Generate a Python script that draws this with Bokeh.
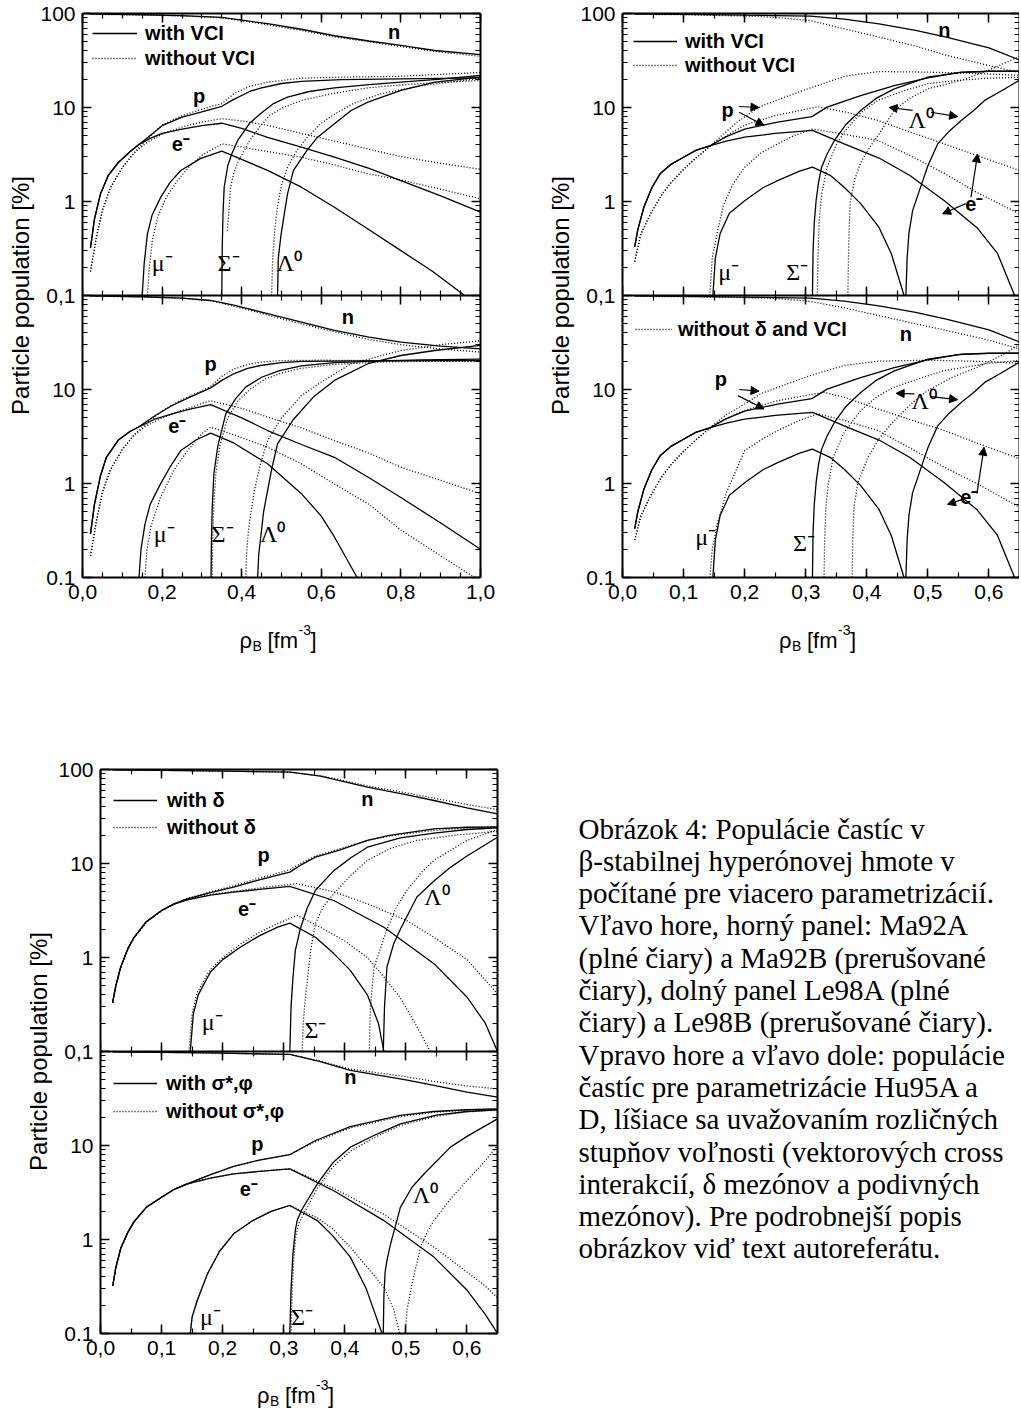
from bokeh.plotting import figure
from bokeh.models import (Range1d, LogScale, LinearAxis, LogAxis, FixedTicker,
                          SingleIntervalTicker, CustomJSTickFormatter, Legend,
                          LegendItem, Arrow, NormalHead, ColumnDataSource)
from bokeh.layouts import row, column
from bokeh.core.properties import value
from bokeh.embed import file_html
from bokeh.resources import INLINE

SANS = "Liberation Sans"
SERIF = "Liberation Serif"

# ======================= DATA =======================
# ---- Panel A: top-left, upper (with VCI solid / without VCI dotted)
A_n_x = [0.02, 0.15, 0.25, 0.35, 0.40, 0.465, 0.55, 0.633, 0.72, 0.80, 0.885, 1.0]
A_n_sol = [99, 97, 95, 91, 85, 78, 68, 58, 51, 45.7, 40.4, 36.6]
A_n_dot = [98, 96.5, 94, 90, 84, 76, 66, 56.5, 50, 44.5, 39.5, 35]
A_p_sol_x = [0.02, 0.03, 0.045, 0.065, 0.09, 0.12, 0.15, 0.2, 0.25, 0.3, 0.35, 0.38, 0.42, 0.45, 0.5, 0.55, 0.65, 0.8, 1.0]
A_p_sol = [0.32, 0.65, 1.2, 1.9, 2.6, 3.4, 4.3, 6.4, 7.9, 9.0, 10.3, 12.2, 14.8, 16.2, 18.0, 19.0, 19.8, 20.2, 20.7]
A_p_dot_x = [0.02, 0.035, 0.05, 0.07, 0.1, 0.13, 0.16, 0.2, 0.25, 0.3, 0.35, 0.38, 0.42, 0.465, 0.55, 0.65, 0.8, 1.0]
A_p_dot = [0.18, 0.42, 0.8, 1.4, 2.3, 3.3, 4.5, 6.5, 8.2, 9.6, 11.0, 14.0, 16.8, 18.6, 20.5, 21.0, 21.5, 23.6]
A_e_sol_x = [0.02, 0.03, 0.045, 0.065, 0.09, 0.12, 0.14, 0.17, 0.2, 0.25, 0.3, 0.35, 0.4, 0.465, 0.55, 0.633, 0.72, 0.8, 0.9, 1.0]
A_e_sol = [0.32, 0.65, 1.2, 1.9, 2.6, 3.4, 4.0, 4.7, 5.3, 5.9, 6.4, 6.8, 6.0, 4.8, 3.78, 2.96, 2.25, 1.67, 1.15, 0.77]
A_e_dot_x = [0.02, 0.035, 0.05, 0.07, 0.1, 0.13, 0.16, 0.2, 0.25, 0.3, 0.35, 0.4, 0.465, 0.55, 0.633, 0.72, 0.8, 0.9, 1.0]
A_e_dot = [0.18, 0.42, 0.8, 1.4, 2.3, 3.3, 4.2, 5.2, 6.2, 7.0, 7.6, 7.2, 6.45, 5.3, 4.4, 3.6, 3.0, 2.55, 2.2]
A_mu_sol_x = [0.15, 0.155, 0.163, 0.175, 0.196, 0.22, 0.247, 0.296, 0.35, 0.4, 0.465, 0.55, 0.633, 0.72, 0.8, 0.88, 0.96]
A_mu_sol = [0.1, 0.22, 0.45, 0.72, 1.1, 1.6, 2.14, 2.86, 3.43, 2.8, 2.14, 1.42, 0.87, 0.5, 0.3, 0.18, 0.1]
A_mu_dot_x = [0.163, 0.168, 0.176, 0.19, 0.21, 0.24, 0.27, 0.3, 0.35, 0.4, 0.465, 0.55, 0.633, 0.717, 0.8, 0.9, 1.0]
A_mu_dot = [0.1, 0.2, 0.4, 0.7, 1.1, 1.7, 2.4, 3.1, 4.1, 3.8, 3.4, 2.96, 2.45, 1.97, 1.7, 1.35, 1.07]
A_sig_sol_x = [0.35, 0.351, 0.353, 0.356, 0.365, 0.375, 0.39, 0.42, 0.447, 0.48, 0.515, 0.57, 0.633, 0.72, 0.8, 0.9, 1.0]
A_sig_sol = [0.1, 0.3, 0.75, 1.42, 2.4, 3.2, 4.46, 6.8, 8.57, 11.0, 12.9, 14.8, 16.2, 17.5, 18.6, 20.0, 21.9]
A_sig_dot_x = [0.364, 0.368, 0.372, 0.38, 0.39, 0.405, 0.42, 0.445, 0.47, 0.5, 0.55, 0.633, 0.717, 0.8, 0.9, 1.0]
A_sig_dot = [0.49, 0.8, 1.42, 2.0, 2.6, 3.4, 4.46, 6.2, 8.2, 9.8, 11.9, 14.2, 16.2, 17.4, 18.5, 19.4]
A_lam_sol_x = [0.49, 0.492, 0.499, 0.515, 0.53, 0.564, 0.59, 0.633, 0.675, 0.717, 0.8, 0.885, 1.0]
A_lam_sol = [0.1, 0.25, 0.45, 1.2, 2.14, 3.5, 4.8, 6.7, 9.3, 11.4, 15.2, 18.6, 21.0]
A_lam_dot_x = [0.475, 0.478, 0.483, 0.49, 0.5, 0.515, 0.535, 0.564, 0.6, 0.633, 0.68, 0.75, 0.85, 1.0]
A_lam_dot = [0.1, 0.25, 0.5, 0.9, 1.5, 2.3, 3.3, 4.8, 6.8, 8.5, 11.0, 14.0, 17.0, 20.5]
A_lab_x = [0.783, 0.293, 0.247]
A_lab_y = [63, 13.4, 4.1]
A_grk_x = [0.2, 0.367, 0.52]
A_grk_y = [0.22, 0.22, 0.22]

# ---- Panel B: top-left, lower
B_n_x = [0.02, 0.15, 0.25, 0.322, 0.38, 0.465, 0.55, 0.633, 0.72, 0.8, 0.9, 1.0]
B_n_sol = [99, 97, 94, 88.5, 79, 64, 52, 42.5, 36, 31.9, 29, 27.1]
B_n_dot = [98.5, 96.5, 93.5, 88, 77, 62, 50, 41, 34, 30, 27, 25]
B_p_sol_x = [0.02, 0.03, 0.045, 0.06, 0.09, 0.12, 0.14, 0.18, 0.225, 0.27, 0.322, 0.35, 0.38, 0.415, 0.447, 0.5, 0.55, 0.7, 1.0]
B_p_sol = [0.29, 0.6, 1.2, 1.9, 2.9, 3.6, 3.97, 5.2, 6.76, 8.3, 10.4, 12.5, 14.7, 16.8, 18.0, 19.3, 19.9, 20.2, 20.3]
B_p_dot_x = [0.02, 0.035, 0.05, 0.07, 0.1, 0.13, 0.16, 0.2, 0.25, 0.3, 0.322, 0.35, 0.38, 0.42, 0.46, 0.5, 0.6, 0.8, 1.0]
B_p_dot = [0.17, 0.4, 0.8, 1.4, 2.3, 3.3, 4.3, 5.9, 7.8, 9.7, 10.8, 13.8, 16.5, 18.7, 19.8, 20.3, 20.5, 20.2, 19.8]
B_e_sol_x = [0.02, 0.03, 0.045, 0.06, 0.09, 0.12, 0.14, 0.18, 0.225, 0.27, 0.322, 0.4, 0.465, 0.55, 0.633, 0.72, 0.8, 0.9, 1.0]
B_e_sol = [0.29, 0.6, 1.2, 1.9, 2.9, 3.6, 3.97, 4.8, 5.5, 6.2, 6.9, 5.0, 3.66, 2.6, 1.9, 1.15, 0.71, 0.38, 0.2]
B_e_dot_x = [0.02, 0.035, 0.05, 0.07, 0.1, 0.13, 0.16, 0.2, 0.25, 0.3, 0.322, 0.4, 0.465, 0.55, 0.633, 0.72, 0.8, 0.9, 1.0]
B_e_dot = [0.17, 0.4, 0.8, 1.4, 2.3, 3.3, 4.1, 5.0, 6.0, 7.1, 7.6, 6.3, 5.1, 3.9, 2.86, 2.1, 1.49, 1.08, 0.78]
B_mu_sol_x = [0.142, 0.147, 0.157, 0.17, 0.196, 0.22, 0.247, 0.285, 0.322, 0.38, 0.465, 0.55, 0.6, 0.633, 0.69]
B_mu_sol = [0.1, 0.2, 0.37, 0.6, 0.99, 1.5, 2.24, 2.9, 3.43, 2.7, 1.62, 0.78, 0.45, 0.27, 0.1]
B_mu_dot_x = [0.157, 0.162, 0.172, 0.196, 0.23, 0.264, 0.3, 0.322, 0.38, 0.465, 0.55, 0.633, 0.72, 0.8, 0.9, 0.985]
B_mu_dot = [0.1, 0.2, 0.35, 0.71, 1.4, 2.24, 3.4, 3.97, 3.3, 2.43, 1.62, 0.99, 0.6, 0.32, 0.17, 0.1]
B_sig_sol_x = [0.323, 0.324, 0.326, 0.33, 0.34, 0.36, 0.385, 0.41, 0.45, 0.495, 0.55, 0.633, 0.75, 0.85, 1.0]
B_sig_sol = [0.1, 0.25, 0.56, 1.27, 2.5, 5.5, 8.0, 10.6, 13.5, 15.9, 17.8, 19.3, 20.2, 20.7, 21.0]
B_sig_dot_x = [0.326, 0.327, 0.33, 0.335, 0.345, 0.365, 0.39, 0.42, 0.46, 0.5, 0.55, 0.633, 0.75, 0.85, 1.0]
B_sig_dot = [0.1, 0.25, 0.6, 1.3, 2.5, 5.0, 7.5, 10.0, 13.0, 15.0, 16.8, 18.5, 19.6, 20.0, 20.3]
B_lam_sol_x = [0.44, 0.443, 0.447, 0.455, 0.465, 0.475, 0.49, 0.53, 0.58, 0.633, 0.717, 0.8, 0.885, 1.0]
B_lam_sol = [0.1, 0.18, 0.25, 0.5, 0.84, 1.4, 2.64, 4.8, 8.3, 12.5, 18.8, 23.0, 26.0, 29.4]
B_lam_dot_x = [0.41, 0.413, 0.418, 0.425, 0.432, 0.445, 0.465, 0.5, 0.55, 0.6, 0.675, 0.8, 0.9, 1.0]
B_lam_dot = [0.1, 0.2, 0.35, 0.55, 0.84, 1.5, 2.86, 5.0, 8.6, 12.0, 18.8, 26.0, 30.0, 33.0]
B_lab_x = [0.667, 0.322, 0.238]
B_lab_y = [58.8, 18.8, 4.14]
B_grk_x = [0.205, 0.352, 0.478]
B_grk_y = [0.29, 0.29, 0.29]

# ---- Panel C: top-right, upper (with VCI / without VCI)
C_n_x = [0.02, 0.1, 0.2, 0.25, 0.308, 0.363, 0.42, 0.48, 0.53, 0.6, 0.65]
C_n_sol = [99, 98, 96, 95, 94, 87, 77.7, 66, 56, 43, 32]
C_n_dot = [98, 97, 94, 91, 84, 68.7, 56, 45, 36, 28, 23.5]
C_p_sol_x = [0.02, 0.025, 0.035, 0.048, 0.062, 0.08, 0.1, 0.12, 0.144, 0.17, 0.2, 0.254, 0.31, 0.335, 0.36, 0.39, 0.445, 0.5, 0.555, 0.6, 0.65]
C_p_sol = [0.33, 0.5, 0.87, 1.4, 1.99, 2.5, 2.96, 3.5, 3.94, 4.9, 5.9, 7.0, 8.0, 10.1, 11.5, 13.4, 17.1, 20.7, 23.8, 24.3, 24.3]
C_p_dot_x = [0.02, 0.03, 0.046, 0.065, 0.08, 0.1, 0.12, 0.144, 0.165, 0.19, 0.226, 0.27, 0.308, 0.363, 0.418, 0.5, 0.58, 0.65]
C_p_dot = [0.23, 0.45, 0.74, 1.2, 1.6, 2.2, 2.9, 3.9, 5.2, 7.2, 10.25, 13.2, 16.2, 21.4, 24.1, 23.8, 23.0, 22.0]
C_e_sol_x = [0.02, 0.025, 0.035, 0.048, 0.062, 0.08, 0.1, 0.12, 0.144, 0.17, 0.2, 0.25, 0.311, 0.363, 0.42, 0.47, 0.527, 0.58, 0.614, 0.642]
C_e_sol = [0.33, 0.5, 0.87, 1.4, 1.99, 2.5, 2.96, 3.5, 3.94, 4.4, 4.83, 5.3, 5.7, 4.1, 2.9, 1.9, 1.02, 0.53, 0.28, 0.1]
C_e_dot_x = [0.02, 0.03, 0.046, 0.065, 0.08, 0.1, 0.12, 0.144, 0.17, 0.2, 0.25, 0.32, 0.363, 0.418, 0.47, 0.527, 0.58, 0.65]
C_e_dot = [0.23, 0.45, 0.74, 1.2, 1.6, 2.2, 2.9, 3.9, 5.0, 6.5, 8.2, 10.2, 9.0, 7.3, 5.5, 4.1, 3.1, 2.14]
C_mu_sol_x = [0.148, 0.152, 0.16, 0.175, 0.2, 0.23, 0.254, 0.29, 0.311, 0.34, 0.363, 0.39, 0.42, 0.44, 0.461]
C_mu_sol = [0.1, 0.25, 0.46, 0.75, 1.02, 1.4, 1.67, 2.1, 2.32, 1.9, 1.42, 0.95, 0.53, 0.28, 0.1]
C_mu_dot_x = [0.143, 0.147, 0.155, 0.165, 0.18, 0.2, 0.227, 0.254, 0.28, 0.311, 0.363, 0.418, 0.47, 0.527, 0.58, 0.65]
C_mu_dot = [0.1, 0.25, 0.46, 0.9, 1.5, 2.32, 3.3, 4.1, 5.0, 5.9, 5.2, 4.46, 3.1, 1.99, 1.25, 0.74]
C_sig_sol_x = [0.311, 0.312, 0.314, 0.317, 0.321, 0.326, 0.335, 0.347, 0.365, 0.39, 0.415, 0.445, 0.5, 0.55, 0.6, 0.65]
C_sig_sol = [0.1, 0.3, 0.6, 1.02, 1.6, 2.32, 3.2, 4.46, 6.5, 9.3, 12.5, 15.8, 21.0, 23.5, 24.2, 24.3]
C_sig_dot_x = [0.319, 0.32, 0.322, 0.326, 0.335, 0.35, 0.363, 0.39, 0.418, 0.46, 0.5, 0.55, 0.6, 0.65]
C_sig_dot = [0.1, 0.25, 0.6, 1.2, 2.32, 4.0, 5.5, 8.8, 11.9, 15.0, 17.9, 19.5, 20.5, 21.0]
C_lam_sol_x = [0.464, 0.466, 0.469, 0.475, 0.49, 0.5, 0.516, 0.535, 0.555, 0.575, 0.593, 0.62, 0.65]
C_lam_sol = [0.1, 0.25, 0.46, 0.8, 1.55, 2.4, 4.1, 5.6, 7.3, 9.3, 11.9, 15.0, 19.5]
C_lam_dot_x = [0.369, 0.37, 0.371, 0.373, 0.38, 0.39, 0.405, 0.418, 0.445, 0.47, 0.5, 0.555, 0.6, 0.65]
C_lam_dot = [0.1, 0.25, 0.5, 1.0, 1.7, 2.6, 3.8, 5.0, 9.3, 12.5, 15.8, 19.5, 25.0, 35.0]
C_lab_x = [0.527, 0.172, 0.576]
C_lab_y = [66, 9.3, 0.95]
C_grk_x = [0.174, 0.286, 0.489]
C_grk_y = [0.18, 0.18, 7.3]
C_arr_x0 = [0.191, 0.191, 0.475, 0.505, 0.5705, 0.562]
C_arr_y0 = [10.25, 8.9, 9.3, 8.9, 1.11, 0.95]
C_arr_x1 = [0.2235, 0.2317, 0.4366, 0.5486, 0.5814, 0.524]
C_arr_y1 = [10.0, 6.45, 10.0, 8.0, 3.2, 0.74]

# ---- Panel D: top-right, lower (solid = same as C; dotted = without delta and VCI)
D_n_dot = [98, 97, 95, 93, 86.5, 74, 61, 50, 42.5, 33.5, 27]
D_p_dot_x = [0.02, 0.03, 0.046, 0.065, 0.08, 0.1, 0.12, 0.144, 0.17, 0.2, 0.226, 0.27, 0.308, 0.363, 0.418, 0.5, 0.6, 0.65]
D_p_dot = [0.25, 0.45, 0.74, 1.2, 1.6, 2.2, 2.9, 3.97, 5.4, 7.0, 9.0, 11.5, 14.1, 18.0, 20.0, 20.5, 19.8, 19.0]
D_e_dot_x = [0.02, 0.03, 0.046, 0.065, 0.08, 0.1, 0.12, 0.144, 0.17, 0.2, 0.25, 0.308, 0.33, 0.363, 0.418, 0.47, 0.527, 0.58, 0.65]
D_e_dot = [0.25, 0.45, 0.74, 1.2, 1.6, 2.2, 2.9, 3.9, 4.9, 6.0, 7.5, 8.85, 9.3, 8.3, 6.2, 4.8, 3.66, 2.7, 1.83]
D_mu_dot_x = [0.143, 0.147, 0.155, 0.17, 0.2, 0.23, 0.254, 0.29, 0.32, 0.363, 0.418, 0.47, 0.527, 0.58, 0.65]
D_mu_dot = [0.1, 0.2, 0.37, 0.8, 2.24, 3.0, 3.66, 4.7, 5.5, 4.7, 3.66, 2.4, 1.49, 1.0, 0.56]
D_sig_dot_x = [0.33, 0.331, 0.333, 0.337, 0.345, 0.363, 0.39, 0.418, 0.445, 0.5, 0.527, 0.6, 0.65]
D_sig_dot = [0.1, 0.25, 0.56, 1.0, 1.9, 3.5, 6.0, 8.5, 10.6, 14.0, 15.9, 19.0, 20.4]
D_lam_dot_x = [0.376, 0.377, 0.379, 0.385, 0.402, 0.42, 0.44, 0.47, 0.5, 0.54, 0.582, 0.62, 0.65]
D_lam_dot = [0.1, 0.25, 0.56, 1.0, 1.9, 3.0, 4.3, 6.8, 9.8, 13.5, 17.3, 23.0, 30.0]
D_lab_x = [0.464, 0.161, 0.568]
D_lab_y = [39, 13, 0.71]
D_grk_x = [0.136, 0.297, 0.494]
D_grk_y = [0.27, 0.23, 7.6]
D_arr_x0 = [0.191, 0.189, 0.478, 0.505, 0.5803, 0.5607]
D_arr_y0 = [10.0, 8.6, 9.0, 8.4, 0.78, 0.69]
D_arr_x1 = [0.2235, 0.2317, 0.448, 0.5486, 0.592, 0.532]
D_arr_y1 = [9.6, 6.2, 9.1, 7.8, 2.43, 0.6]

# ---- Panel E: bottom-left, upper (with delta / without delta)
E_n_x = [0.02, 0.1, 0.2, 0.31, 0.36, 0.437, 0.5, 0.546, 0.6, 0.65]
E_n_sol = [99, 98, 96, 94, 85, 65, 54, 46.8, 39, 33.8]
E_n_dot = [99, 98, 96, 94, 86, 67, 56.5, 49.5, 42.5, 37.5]
E_p_x = [0.02, 0.025, 0.033, 0.045, 0.055, 0.075, 0.1, 0.12, 0.142, 0.18, 0.218, 0.26, 0.3, 0.31, 0.33, 0.352, 0.39, 0.437, 0.473, 0.546, 0.6, 0.65]
E_p_sol = [0.335, 0.5, 0.79, 1.25, 1.64, 2.4, 3.16, 3.7, 4.2, 4.9, 5.6, 6.7, 7.8, 8.1, 9.8, 11.7, 13.8, 17.6, 19.9, 23.4, 24.3, 24.5]
E_p_dot = [0.33, 0.49, 0.78, 1.23, 1.62, 2.38, 3.14, 3.7, 4.25, 5.0, 5.8, 7.0, 8.2, 8.6, 10.2, 12.0, 14.2, 17.6, 19.6, 22.5, 23.8, 24.2]
E_e_sol_x = [0.02, 0.025, 0.033, 0.045, 0.055, 0.075, 0.1, 0.12, 0.142, 0.18, 0.218, 0.26, 0.31, 0.382, 0.464, 0.546, 0.6, 0.63, 0.65]
E_e_sol = [0.335, 0.5, 0.79, 1.25, 1.64, 2.4, 3.16, 3.7, 4.1, 4.6, 4.95, 5.3, 5.7, 4.04, 2.1, 0.86, 0.38, 0.2, 0.1]
E_e_dot_x = [0.02, 0.025, 0.033, 0.045, 0.055, 0.075, 0.1, 0.12, 0.142, 0.18, 0.218, 0.26, 0.322, 0.382, 0.437, 0.5, 0.546, 0.6, 0.65]
E_e_dot = [0.33, 0.49, 0.78, 1.23, 1.62, 2.38, 3.14, 3.7, 4.15, 4.7, 5.05, 5.5, 6.1, 5.0, 3.73, 2.5, 1.64, 0.95, 0.41]
E_mu_sol_x = [0.147, 0.152, 0.16, 0.18, 0.2, 0.23, 0.26, 0.29, 0.31, 0.352, 0.382, 0.409, 0.437, 0.455, 0.464]
E_mu_sol = [0.1, 0.25, 0.4, 0.7, 0.95, 1.3, 1.7, 2.1, 2.32, 1.64, 1.1, 0.73, 0.4, 0.2, 0.1]
E_mu_dot_x = [0.145, 0.15, 0.158, 0.18, 0.2, 0.23, 0.26, 0.29, 0.322, 0.36, 0.4, 0.437, 0.464, 0.49, 0.515, 0.54]
E_mu_dot = [0.1, 0.25, 0.42, 0.75, 1.0, 1.4, 1.85, 2.3, 2.8, 2.1, 1.5, 1.0, 0.62, 0.38, 0.2, 0.1]
E_sig_sol_x = [0.31, 0.312, 0.315, 0.319, 0.327, 0.338, 0.352, 0.382, 0.41, 0.437, 0.491, 0.546, 0.6, 0.65]
E_sig_sol = [0.1, 0.3, 0.6, 1.19, 2.0, 3.3, 5.2, 8.4, 11.5, 14.9, 18.7, 21.0, 23.0, 24.0]
E_sig_dot_x = [0.33, 0.332, 0.335, 0.338, 0.344, 0.352, 0.365, 0.382, 0.41, 0.437, 0.475, 0.518, 0.58, 0.65]
E_sig_dot = [0.1, 0.2, 0.35, 0.52, 1.2, 2.3, 3.5, 4.76, 7.5, 10.8, 14.5, 17.6, 20.0, 22.0]
E_lam_sol_x = [0.463, 0.465, 0.469, 0.48, 0.491, 0.518, 0.546, 0.573, 0.6, 0.65]
E_lam_sol = [0.1, 0.3, 0.79, 1.4, 2.0, 4.4, 6.5, 9.1, 12.0, 19.0]
E_lam_dot_x = [0.44, 0.442, 0.445, 0.448, 0.469, 0.485, 0.502, 0.525, 0.546, 0.6, 0.65]
E_lam_dot = [0.1, 0.3, 0.5, 0.79, 2.0, 3.5, 5.2, 8.0, 10.8, 17.6, 23.0]
E_lab_x = [0.437, 0.267, 0.24]
E_lab_y = [48.8, 12.2, 3.3]
E_grk_x = [0.183, 0.352, 0.551]
E_grk_y = [0.205, 0.17, 4.4]

# ---- Panel F: bottom-left, lower (with sigma*,phi / without)
F_n_x = [0.02, 0.1, 0.2, 0.31, 0.36, 0.409, 0.5, 0.546, 0.6, 0.65]
F_n_sol = [99, 98, 96, 93, 78, 63, 50, 43.5, 37, 32.7]
F_n_dot = [99, 98, 96, 93, 79, 65, 54, 48, 43, 40]
F_p_x = [0.02, 0.025, 0.033, 0.045, 0.055, 0.075, 0.1, 0.12, 0.142, 0.18, 0.218, 0.26, 0.31, 0.352, 0.409, 0.491, 0.546, 0.6, 0.65]
F_p_sol = [0.32, 0.5, 0.8, 1.2, 1.55, 2.2, 2.82, 3.4, 3.9, 4.9, 6.0, 7.0, 8.0, 11.3, 15.9, 20.9, 23.0, 24.0, 24.5]
F_p_dot = [0.32, 0.5, 0.8, 1.2, 1.55, 2.2, 2.82, 3.4, 3.9, 4.9, 6.0, 7.0, 8.0, 11.0, 15.4, 20.3, 22.6, 23.8, 24.5]
F_e_x = [0.02, 0.025, 0.033, 0.045, 0.055, 0.075, 0.1, 0.12, 0.142, 0.18, 0.218, 0.26, 0.31, 0.382, 0.464, 0.546, 0.6, 0.63, 0.65]
F_e_sol = [0.32, 0.5, 0.8, 1.2, 1.55, 2.2, 2.82, 3.4, 3.9, 4.5, 5.0, 5.3, 5.65, 3.3, 1.59, 0.65, 0.29, 0.16, 0.1]
F_e_dot = [0.32, 0.5, 0.8, 1.2, 1.55, 2.2, 2.82, 3.4, 3.9, 4.5, 5.0, 5.3, 5.65, 3.5, 1.85, 0.83, 0.45, 0.32, 0.24]
F_mu_sol_x = [0.147, 0.15, 0.158, 0.175, 0.195, 0.218, 0.25, 0.28, 0.31, 0.355, 0.38, 0.409, 0.435, 0.461]
F_mu_sol = [0.1, 0.15, 0.22, 0.43, 0.75, 1.15, 1.6, 2.0, 2.3, 1.59, 1.1, 0.65, 0.3, 0.1]
F_mu_dot_x = [0.147, 0.15, 0.158, 0.175, 0.195, 0.218, 0.25, 0.28, 0.31, 0.355, 0.38, 0.409, 0.464, 0.48, 0.49]
F_mu_dot = [0.1, 0.15, 0.22, 0.43, 0.75, 1.15, 1.6, 2.0, 2.3, 1.7, 1.3, 0.83, 0.31, 0.18, 0.1]
F_sig_sol_x = [0.31, 0.312, 0.315, 0.319, 0.322, 0.33, 0.355, 0.38, 0.409, 0.45, 0.491, 0.55, 0.6, 0.65]
F_sig_sol = [0.1, 0.3, 0.7, 1.25, 1.6, 2.1, 3.9, 6.5, 9.6, 13.0, 17.0, 21.0, 23.0, 24.0]
F_sig_dot_x = [0.312, 0.314, 0.317, 0.32, 0.325, 0.335, 0.355, 0.38, 0.409, 0.45, 0.491, 0.55, 0.6, 0.65]
F_sig_dot = [0.1, 0.3, 0.7, 1.1, 1.5, 2.0, 3.5, 5.9, 8.7, 12.3, 16.3, 20.5, 22.8, 23.8]
F_lam_sol_x = [0.463, 0.464, 0.466, 0.469, 0.475, 0.491, 0.51, 0.53, 0.573, 0.6, 0.65]
F_lam_sol = [0.1, 0.25, 0.45, 0.6, 0.9, 2.2, 3.6, 5.0, 9.6, 12.5, 19.2]
F_lam_dot_x = [0.499, 0.502, 0.508, 0.516, 0.524, 0.535, 0.546, 0.573, 0.6, 0.625, 0.65]
F_lam_dot = [0.1, 0.18, 0.29, 0.5, 0.83, 1.2, 1.59, 2.7, 4.25, 6.3, 10.0]
F_lab_x = [0.409, 0.257, 0.243]
F_lab_y = [53, 10.4, 3.46]
F_grk_x = [0.18, 0.33, 0.532]
F_grk_y = [0.15, 0.15, 2.94]

# ---- texts
BOLD_LABELS = ["n", "p", "e⁻"]
GREEK_LABELS = ["μ⁻", "Σ⁻", "Λ⁰"]
LEG_A = ["with VCI", "without VCI"]
LEG_C = ["with VCI", "without VCI"]
LEG_D = ["without δ and VCI"]
LEG_E = ["with δ", "without δ"]
LEG_F = ["with σ*,φ", "without σ*,φ"]
Y_AXIS_LABEL = "Particle population [%]"
Y_TICK_LABELS = ["0.1", "1", "10", "0,1", "1", "10", "100"]
XLAB_TEXT = ["ρ", "B", "[fm", "-3", "]"]
CAPTION_LINES = [
    "Obrázok 4:  Populácie častíc v",
    "β-stabilnej hyperónovej hmote v",
    "počítané pre viacero parametrizácií.",
    "Vľavo hore, horný panel: Ma92A",
    "(plné čiary) a Ma92B (prerušované",
    "čiary), dolný panel Le98A (plné",
    "čiary) a Le98B (prerušované čiary).",
    "Vpravo hore a vľavo dole: populácie",
    "častíc pre parametrizácie Hu95A a",
    "D, líšiace sa uvažovaním rozličných",
    "stupňov voľnosti (vektorových cross",
    "interakcií, δ mezónov a podivných",
    "mezónov).  Pre podrobnejší popis",
    "obrázkov viď text autoreferátu.",
]

# ======================= LAYOUT / STYLE =======================
FH = 282
XLAB_DX = [-42, -29, -14, 17, 29]
XLAB_DY = [0, 5, 0, -11, 0]
XLAB_FS = ["22px", "14px", "22px", "14px", "22px"]

Y_MAJOR = [10.0 ** k for k in range(-4, 3)]
Y_MINOR = [m * 10.0 ** k for k in range(-4, 2) for m in range(2, 10)]


def style_axis(ax, show_labels=False):
    ax.axis_line_width = 2
    ax.axis_line_color = "black"
    ax.major_tick_line_width = 1.5
    ax.minor_tick_line_width = 1.2
    ax.major_tick_line_color = "black"
    ax.minor_tick_line_color = "black"
    ax.major_tick_in = 9
    ax.major_tick_out = 0
    ax.minor_tick_in = 5
    ax.minor_tick_out = 0
    if show_labels:
        ax.major_label_text_font = SANS
        ax.major_label_text_font_size = "21px"
        ax.major_label_text_color = "black"
        ax.major_label_standoff = 7
    else:
        ax.major_label_text_font_size = "0px"
        ax.major_label_standoff = 0
        ax.formatter = CustomJSTickFormatter(code="return '';")


def draw_panel(p, curves, lab_x, lab_y, grk_x, grk_y, rng):
    rends = []
    for xs, ys, dotted in curves:
        r = p.line(xs, ys, line_color="black", line_width=1.3,
                   line_dash="1 2" if dotted else "solid", y_range_name=rng)
        rends.append(r)
    p.text(x=lab_x, y=lab_y, text=BOLD_LABELS, text_font=value(SANS),
           text_font_style="bold", text_font_size="20px", text_align="center",
           text_baseline="middle", text_color="black", y_range_name=rng)
    p.text(x=grk_x, y=grk_y, text=GREEK_LABELS, text_font=value(SERIF),
           text_font_size="24px", text_align="center",
           text_baseline="middle", text_color="black", y_range_name=rng)
    return rends


def add_legend(p, labels, rends, left, row1_center, pitch, gw, ls, lower):
    rowh = 24
    sp = pitch - rowh
    n = len(labels)
    lh = n * rowh + (n - 1) * sp
    top = row1_center - rowh / 2
    base = FH if lower else 2 * FH
    vy = base - top - lh
    items = [LegendItem(label=t, renderers=[r]) for t, r in zip(labels, rends)]
    leg = Legend(items=items, location=(left, vy), glyph_width=gw, glyph_height=rowh,
                 label_height=rowh, label_standoff=ls, spacing=sp, padding=0, margin=0,
                 border_line_color=None, background_fill_alpha=0,
                 label_text_font=SANS, label_text_font_style="bold",
                 label_text_font_size="20px", label_text_color="black")
    p.add_layout(leg)


def add_arrows(p, x0, y0, x1, y1, rng):
    src = ColumnDataSource(dict(x0=x0, y0=y0, x1=x1, y1=y1))
    p.add_layout(Arrow(end=NormalHead(size=8, fill_color="black", line_color="black", line_width=1),
                       x_start="x0", y_start="y0", x_end="x1", y_end="y1", source=src,
                       line_width=1.2, line_color="black", y_range_name=rng))


def make_group(xmax, xstep, nminor, fw, lb, rb, tb, bb, right_axis=True):
    p = figure(frame_width=fw, frame_height=2 * FH, x_range=Range1d(0, xmax),
               y_range=Range1d(1e-4, 100), y_axis_type="log",
               extra_y_ranges={"lo": Range1d(0.1, 1e5)}, extra_y_scales={"lo": LogScale()},
               min_border_left=lb, min_border_right=rb, min_border_top=tb, min_border_bottom=bb,
               output_backend="svg", toolbar_location=None, outline_line_color=None,
               background_fill_color="white", border_fill_color="white")
    p.xgrid.visible = False
    p.ygrid.visible = False
    xa = p.xaxis[0]
    xa.ticker = SingleIntervalTicker(interval=xstep, num_minor_ticks=nminor)
    style_axis(xa, True)
    xa.formatter = CustomJSTickFormatter(code="return tick.toFixed(1).replace('.', ',');")
    ya = p.yaxis[0]
    ya.ticker = FixedTicker(ticks=Y_MAJOR, minor_ticks=Y_MINOR)
    style_axis(ya, True)
    ya.formatter = CustomJSTickFormatter(args=dict(labels=Y_TICK_LABELS),
                                         code="return labels[Math.round(Math.log10(tick)) + 4];")
    ya.axis_label = Y_AXIS_LABEL
    ya.axis_label_text_font = SANS
    ya.axis_label_text_font_style = "normal"
    ya.axis_label_text_font_size = "24px"
    ya.axis_label_text_color = "black"
    ya.axis_label_standoff = 3
    top = LinearAxis(ticker=SingleIntervalTicker(interval=xstep, num_minor_ticks=nminor))
    style_axis(top, False)
    p.add_layout(top, "above")
    if right_axis:
        ra = LogAxis(ticker=FixedTicker(ticks=Y_MAJOR, minor_ticks=Y_MINOR))
        style_axis(ra, False)
        p.add_layout(ra, "right")
    mid = LinearAxis(ticker=SingleIntervalTicker(interval=xstep, num_minor_ticks=nminor),
                     fixed_location=0.1)
    style_axis(mid, False)
    mid.major_tick_out = 9
    mid.minor_tick_out = 5
    p.add_layout(mid, "below")
    return p


def make_xlabel(xmax, fw, lb, rb, h, baseline):
    f = figure(frame_width=fw, frame_height=h, x_range=Range1d(0, xmax), y_range=Range1d(h, 0),
               min_border_left=lb, min_border_right=rb, min_border_top=0, min_border_bottom=0,
               x_axis_location=None, y_axis_location=None, toolbar_location=None,
               output_backend="svg", outline_line_color=None)
    f.grid.visible = False
    src = ColumnDataSource(dict(x=[xmax / 2] * len(XLAB_TEXT),
                                y=[baseline + d for d in XLAB_DY],
                                t=XLAB_TEXT, dx=XLAB_DX, fs=XLAB_FS))
    f.text(x="x", y="y", text="t", x_offset="dx", text_font_size="fs", source=src,
           text_font=value(SANS), text_align="left", text_baseline="alphabetic",
           text_color="black")
    return f


# ---------- group top-left ----------
pTL = make_group(1.0, 0.2, 4, 398, 82, 62, 13, 40)
rA = draw_panel(pTL, [
    (A_n_x, A_n_sol, False), (A_n_x, A_n_dot, True),
    (A_p_sol_x, A_p_sol, False), (A_p_dot_x, A_p_dot, True),
    (A_e_sol_x, A_e_sol, False), (A_e_dot_x, A_e_dot, True),
    (A_mu_sol_x, A_mu_sol, False), (A_mu_dot_x, A_mu_dot, True),
    (A_sig_sol_x, A_sig_sol, False), (A_sig_dot_x, A_sig_dot, True),
    (A_lam_sol_x, A_lam_sol, False), (A_lam_dot_x, A_lam_dot, True),
], A_lab_x, A_lab_y, A_grk_x, A_grk_y, "default")
add_legend(pTL, LEG_A, [rA[0], rA[1]], 10, 20, 25, 45, 8, False)
draw_panel(pTL, [
    (B_n_x, B_n_sol, False), (B_n_x, B_n_dot, True),
    (B_p_sol_x, B_p_sol, False), (B_p_dot_x, B_p_dot, True),
    (B_e_sol_x, B_e_sol, False), (B_e_dot_x, B_e_dot, True),
    (B_mu_sol_x, B_mu_sol, False), (B_mu_dot_x, B_mu_dot, True),
    (B_sig_sol_x, B_sig_sol, False), (B_sig_dot_x, B_sig_dot, True),
    (B_lam_sol_x, B_lam_sol, False), (B_lam_dot_x, B_lam_dot, True),
], B_lab_x, B_lab_y, B_grk_x, B_grk_y, "lo")
xlTL = make_xlabel(1.0, 398, 82, 62, 60, 23)

# ---------- group top-right ----------
pTR = make_group(0.65, 0.1, 2, 397, 80, 0, 13, 40)
C_solid = [(C_n_x, C_n_sol, False), (C_p_sol_x, C_p_sol, False), (C_e_sol_x, C_e_sol, False),
           (C_mu_sol_x, C_mu_sol, False), (C_sig_sol_x, C_sig_sol, False),
           (C_lam_sol_x, C_lam_sol, False)]
rC = draw_panel(pTR, C_solid + [
    (C_n_x, C_n_dot, True), (C_p_dot_x, C_p_dot, True), (C_e_dot_x, C_e_dot, True),
    (C_mu_dot_x, C_mu_dot, True), (C_sig_dot_x, C_sig_dot, True), (C_lam_dot_x, C_lam_dot, True),
], C_lab_x, C_lab_y, C_grk_x, C_grk_y, "default")
add_legend(pTR, LEG_C, [rC[0], rC[6]], 11, 29, 23, 44, 8, False)
add_arrows(pTR, C_arr_x0, C_arr_y0, C_arr_x1, C_arr_y1, "default")
rD = draw_panel(pTR, C_solid + [
    (C_n_x, D_n_dot, True), (D_p_dot_x, D_p_dot, True), (D_e_dot_x, D_e_dot, True),
    (D_mu_dot_x, D_mu_dot, True), (D_sig_dot_x, D_sig_dot, True), (D_lam_dot_x, D_lam_dot, True),
], D_lab_x, D_lab_y, D_grk_x, D_grk_y, "lo")
add_legend(pTR, LEG_D, [rD[6]], 13, 34, 23, 37, 6, True)
add_arrows(pTR, D_arr_x0, D_arr_y0, D_arr_x1, D_arr_y1, "lo")
xlTR = make_xlabel(0.65, 397, 80, 0, 60, 23)

# ---------- group bottom-left ----------
pBL = make_group(0.65, 0.1, 2, 397, 100, 20, 92, 40)
rE = draw_panel(pBL, [
    (E_n_x, E_n_sol, False), (E_n_x, E_n_dot, True),
    (E_p_x, E_p_sol, False), (E_p_x, E_p_dot, True),
    (E_e_sol_x, E_e_sol, False), (E_e_dot_x, E_e_dot, True),
    (E_mu_sol_x, E_mu_sol, False), (E_mu_dot_x, E_mu_dot, True),
    (E_sig_sol_x, E_sig_sol, False), (E_sig_dot_x, E_sig_dot, True),
    (E_lam_sol_x, E_lam_sol, False), (E_lam_dot_x, E_lam_dot, True),
], E_lab_x, E_lab_y, E_grk_x, E_grk_y, "default")
add_legend(pBL, LEG_E, [rE[0], rE[1]], 13, 31, 27, 44, 10, False)
rF = draw_panel(pBL, [
    (F_n_x, F_n_sol, False), (F_n_x, F_n_dot, True),
    (F_p_x, F_p_sol, False), (F_p_x, F_p_dot, True),
    (F_e_x, F_e_sol, False), (F_e_x, F_e_dot, True),
    (F_mu_sol_x, F_mu_sol, False), (F_mu_dot_x, F_mu_dot, True),
    (F_sig_sol_x, F_sig_sol, False), (F_sig_dot_x, F_sig_dot, True),
    (F_lam_sol_x, F_lam_sol, False), (F_lam_dot_x, F_lam_dot, True),
], F_lab_x, F_lab_y, F_grk_x, F_grk_y, "lo")
add_legend(pBL, LEG_F, [rF[0], rF[1]], 13, 32, 28, 44, 9, True)
xlBL = make_xlabel(0.65, 397, 100, 20, 40, 22)

# ---------- caption ----------
CW = 504
cap = figure(frame_width=CW, frame_height=2 * FH, x_range=Range1d(0, CW),
             y_range=Range1d(2 * FH, 0), min_border_left=0, min_border_right=0,
             min_border_top=92, min_border_bottom=80, x_axis_location=None,
             y_axis_location=None, toolbar_location=None, output_backend="svg",
             outline_line_color=None)
cap.grid.visible = False
cap_y = [59 + 32.3 * i for i in range(len(CAPTION_LINES))]
cap.text(x=[61] * len(CAPTION_LINES), y=cap_y, text=CAPTION_LINES, text_font=value(SERIF),
         text_font_size="29px", text_align="left", text_baseline="middle", text_color="black")

page = column(row(column(pTL, xlTL), column(pTR, xlTR)), row(column(pBL, xlBL), cap))
open("out.html", "w").write(file_html(page, INLINE, "Particle populations"))
